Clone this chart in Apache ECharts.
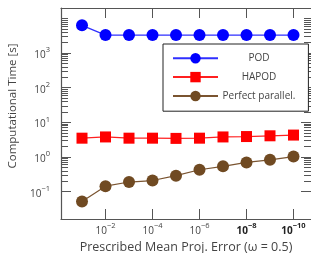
<!DOCTYPE html>
<html>
<head>
<meta charset="utf-8">
<script src="https://cdn.jsdelivr.net/npm/echarts@6/dist/echarts.min.js"></script>
<style>
  html, body { margin: 0; padding: 0; background: #fff; }
  #chart { width: 311px; height: 253px; }
</style>
</head>
<body>
<div id="chart"></div>
<script>
// prescribed mean projection error (x), decreasing to the right
const errors = [1e-1, 1e-2, 1e-3, 1e-4, 1e-5, 1e-6, 1e-7, 1e-8, 1e-9, 1e-10];
// computational time [s]
const podTimes = [6300, 3300, 3300, 3300, 3300, 3300, 3300, 3300, 3300, 3300];
const hapodTimes = [3.5, 3.8, 3.5, 3.5, 3.45, 3.5, 3.8, 3.9, 4.1, 4.3];
const perfectTimes = [0.052, 0.144, 0.19, 0.21, 0.29, 0.43, 0.54, 0.70, 0.83, 1.03];

// tick values
const xTicks = [1e-2, 1e-4, 1e-6, 1e-8, 1e-10];
const yMajor = [0.1, 1, 10, 100, 1000];
const yMinor = [];
[0.1, 1, 10, 100, 1000].forEach(d => {
  for (let k = 2; k <= 10; k++) yMinor.push(+(k * d).toPrecision(3));
});

const textColor = '#444';
const axisColor = '#555';
const font = 'Open Sans';

const sup = v => {
  const e = Math.round(Math.log10(v));
  return (e < 0 ? '\u2212' : '') + Math.abs(e);
};

const chart = echarts.init(document.getElementById('chart'));

const yBase = {
  type: 'log',
  logBase: 10,
  min: 0.0163,
  max: 19950,
  splitLine: { show: false },
};
const xBase = {
  type: 'log',
  logBase: 10,
  inverse: true,
  min: 1.8e-11,
  max: 0.783,
  splitLine: { show: false },
};

const option = {
  animation: false,
  grid: { left: 61, top: 8, right: 0, bottom: 34, outerBoundsMode: 'none' },
  xAxis: [
    Object.assign({}, xBase, {
      position: 'bottom',
      axisLine: { show: true, lineStyle: { color: axisColor, width: 1.2 } },
      axisTick: { inside: true, length: 10, customValues: xTicks, lineStyle: { color: axisColor } },
      axisLabel: {
        customValues: xTicks,
        margin: 3,
        formatter: v => {
          const e = Math.round(Math.log10(v));
          return e <= -8 ? '{bb|10}{bs|' + sup(v) + '}' : '{b|10}{s|' + sup(v) + '}';
        },
        rich: {
          b: { fontSize: 10, color: textColor, fontFamily: font, verticalAlign: 'bottom', lineHeight: 14 },
          s: { fontSize: 7.5, color: textColor, fontFamily: font, verticalAlign: 'top', lineHeight: 8 },
          bb: { fontSize: 10, color: '#222', fontWeight: 'bold', fontFamily: font, verticalAlign: 'bottom', lineHeight: 14 },
          bs: { fontSize: 7.5, color: '#222', fontWeight: 'bold', fontFamily: font, verticalAlign: 'top', lineHeight: 8 },
        },
      },
      name: 'Prescribed Mean Proj. Error (\u03c9 = 0.5)',
      nameLocation: 'middle',
      nameGap: 20,
      nameTextStyle: { color: textColor, fontSize: 12.5, fontFamily: font },
    }),
    Object.assign({}, xBase, {
      position: 'top',
      axisLine: { show: true, lineStyle: { color: axisColor, width: 1.2 } },
      axisTick: { inside: true, length: 10, customValues: xTicks, lineStyle: { color: axisColor } },
      axisLabel: { show: false },
    }),
  ],
  yAxis: [
    Object.assign({}, yBase, {
      position: 'left',
      axisLine: { show: true, lineStyle: { color: axisColor, width: 1.2 } },
      axisTick: { inside: true, length: 10, customValues: yMajor, lineStyle: { color: axisColor } },
      axisLabel: {
        customValues: yMajor,
        margin: 11,
        formatter: v => '{b|10}{s|' + sup(v) + '}',
        rich: {
          b: { fontSize: 10, color: textColor, fontFamily: font, verticalAlign: 'bottom', lineHeight: 14 },
          s: { fontSize: 7.5, color: textColor, fontFamily: font, verticalAlign: 'top', lineHeight: 8 },
        },
      },
    }),
    Object.assign({}, yBase, {
      position: 'left',
      axisLine: { show: false },
      axisTick: { inside: true, length: 7, customValues: yMinor, lineStyle: { color: axisColor } },
      axisLabel: { show: false },
    }),
    Object.assign({}, yBase, {
      position: 'right',
      axisLine: { show: false },
      axisTick: { inside: true, length: 10, customValues: yMajor, lineStyle: { color: axisColor } },
      axisLabel: { show: false },
    }),
    Object.assign({}, yBase, {
      position: 'right',
      axisLine: { show: false },
      axisTick: { inside: true, length: 7, customValues: yMinor, lineStyle: { color: axisColor } },
      axisLabel: { show: false },
    }),
  ],
  legend: {
    orient: 'vertical',
    left: 163,
    top: 44,
    padding: [9, 13, 10, 9],
    itemWidth: 45,
    itemHeight: 13,
    itemGap: 8.5,
    backgroundColor: '#fff',
    borderColor: '#222',
    borderWidth: 1,
    borderRadius: 0,
    data: ['POD', 'HAPOD', 'Perfect parallel.'],
    formatter: name => '{t|' + name + '}',
    textStyle: {
      rich: {
        t: { width: 72, align: 'center', fontSize: 10, color: textColor, fontFamily: font },
      },
    },
  },
  graphic: [
    {
      type: 'text',
      x: 13,
      y: 106,
      rotation: Math.PI / 2,
      style: {
        text: 'Computational Time [s]',
        fill: textColor,
        font: '11.5px "Open Sans"',
        align: 'center',
        verticalAlign: 'middle',
      },
    },
  ],
  series: [
    {
      name: 'POD',
      type: 'line',
      data: errors.map((e, i) => [e, podTimes[i]]),
      symbol: 'circle',
      symbolSize: 12,
      itemStyle: { color: '#0000ff' },
      lineStyle: { color: '#2f2fff', width: 1.2 },
    },
    {
      name: 'HAPOD',
      type: 'line',
      data: errors.map((e, i) => [e, hapodTimes[i]]),
      symbol: 'rect',
      symbolSize: 11,
      itemStyle: { color: '#ff0000' },
      lineStyle: { color: '#ff2020', width: 1.2 },
    },
    {
      name: 'Perfect parallel.',
      type: 'line',
      data: errors.map((e, i) => [e, perfectTimes[i]]),
      symbol: 'circle',
      symbolSize: 12,
      itemStyle: { color: '#704a22' },
      lineStyle: { color: '#7a5430', width: 1.2 },
    },
  ],
};

chart.setOption(option);
window.addEventListener('resize', () => {
  chart.resize();
});
</script>
</body>
</html>
